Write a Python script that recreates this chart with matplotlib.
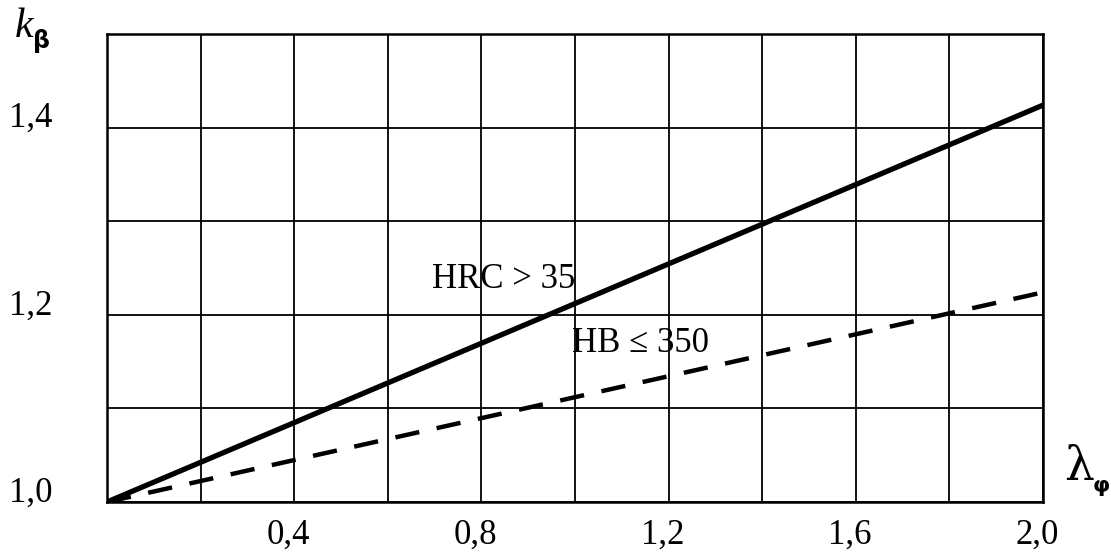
import numpy as np
import matplotlib.pyplot as plt
import matplotlib.transforms as mtransforms

plt.rcParams['font.family'] = ['Liberation Serif', 'DejaVu Serif']

# data
lam = [0.0, 2.0]
k_hrc = [1.0, 1.424]
k_hb = [1.0, 1.224]

x_grid = np.arange(0, 2.01, 0.2)
y_grid = np.arange(1.0, 1.51, 0.1)
x_labels = {0.4: "0,4", 0.8: "0,8", 1.2: "1,2", 1.6: "1,6", 2.0: "2,0"}
y_labels = {1.0: "1,0", 1.2: "1,2", 1.4: "1,4"}

fig = plt.figure(figsize=(11.11, 5.54), dpi=100)
ax = fig.add_axes([107/1111, 52/554, 936/1111, 468/554])

ax.plot(lam, k_hrc, color="black", lw=3.8, solid_capstyle="butt")
ax.plot(lam, k_hb, color="black", lw=3.2, dashes=(5.5, 4))

ax.set_xlim(0, 2.0)
ax.set_ylim(1.0, 1.5)
ax.set_xticks(x_grid)
ax.set_yticks(y_grid)
ax.set_xticklabels([x_labels.get(round(v, 1), "") for v in x_grid])
ax.set_yticklabels([y_labels.get(round(v, 1), "") for v in y_grid])
ax.tick_params(length=0, labelsize=25)
ax.tick_params(axis="x", pad=12)
ax.tick_params(axis="y", pad=39)

up = mtransforms.ScaledTranslation(0, 13/100, fig.dpi_scale_trans)
for lbl in ax.get_yticklabels():
    lbl.set_transform(lbl.get_transform() + up)
left = mtransforms.ScaledTranslation(-6/100, 0, fig.dpi_scale_trans)
for lbl in ax.get_xticklabels():
    lbl.set_transform(lbl.get_transform() + left)

ax.grid(True, color="black", lw=1.3)
for s in ax.spines.values():
    s.set_linewidth(1.8)

ax.text(0.694, 1.2286, "HRC > 35", fontsize=25, ha="left", va="baseline")
ax.text(0.9936, 1.160, "HB ≤ 350", fontsize=25, ha="left", va="baseline")

fig.text(15/1111, (554-37)/554, "k", fontsize=30, style="italic", ha="left", va="baseline")
fig.text(33/1111, (554-48)/554, "β", fontsize=17, weight="bold", family="DejaVu Sans", ha="left", va="baseline")
fig.text(1064/1111, (554-480)/554, "λ", fontsize=34, family="DejaVu Serif", ha="left", va="baseline")
fig.text(1093/1111, (554-492)/554, "φ", fontsize=16, weight="bold", family="DejaVu Sans", ha="left", va="baseline")

fig.savefig("out.png", dpi=100)
